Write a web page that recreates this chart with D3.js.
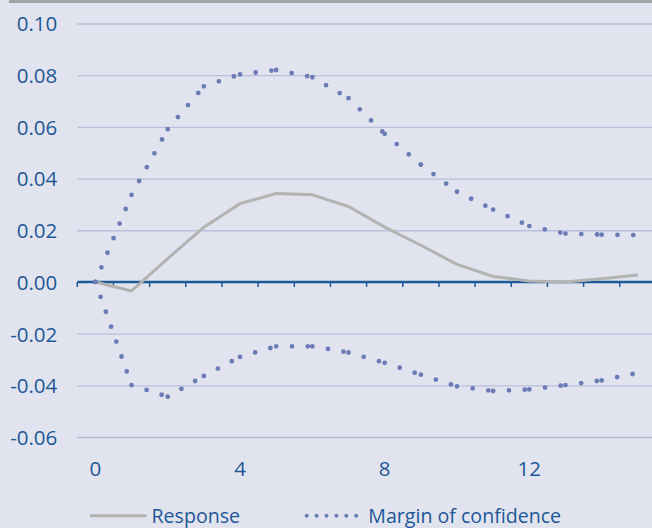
<!DOCTYPE html>
<html>
<head>
<meta charset="utf-8">
<script src="https://cdn.jsdelivr.net/npm/d3@7"></script>
<style>
  html, body { margin: 0; padding: 0; background: #e1e4ee; }
  svg { display: block; }
  text { font-family: "Open Sans", sans-serif; fill: #1d5797; }
</style>
</head>
<body>
<svg id="chart" width="652" height="528"></svg>
<script>
// periods after the shock
var periods = d3.range(0, 16);
var xTickLabels = [0, 4, 8, 12];
var yTicks = [-0.06, -0.04, -0.02, 0.00, 0.02, 0.04, 0.06, 0.08, 0.10];

var response = [0, -0.0035, 0.009, 0.0212, 0.0303, 0.0342, 0.0337, 0.0292, 0.0212, 0.0142, 0.0068, 0.0021, 0.0004, 0.0, 0.0012, 0.0027];
var upperBand = [0, 0.0337, 0.0591, 0.0757, 0.0803, 0.0820, 0.0792, 0.0711, 0.0573, 0.0454, 0.0349, 0.0280, 0.0216, 0.0187, 0.0183, 0.0181];
var lowerBand = [0, -0.0399, -0.0444, -0.0364, -0.0290, -0.0249, -0.0249, -0.0273, -0.0313, -0.0359, -0.0404, -0.0422, -0.0416, -0.0399, -0.0381, -0.0352];

var svg = d3.select("#chart");

var x = d3.scaleBand()
    .domain(periods)
    .range([77.3, 655.9])
    .padding(0);
var cx = d => x(d) + x.bandwidth() / 2;

var y = d3.scaleLinear()
    .domain([-0.06, 0.10])
    .range([437, 23.5]);

// top rule
svg.append("line")
    .attr("x1", 9).attr("x2", 652)
    .attr("y1", 1.5).attr("y2", 1.5)
    .attr("stroke", "#a3a4a8")
    .attr("stroke-width", 3);

// grid + y labels
var yAxis = svg.append("g")
    .attr("transform", "translate(77.3,0)")
    .call(d3.axisLeft(y).tickValues(yTicks).tickSize(-(652 - 77.3)).tickPadding(20)
        .tickFormat(d3.format(".2f")));
yAxis.select(".domain").remove();
yAxis.selectAll(".tick line")
    .attr("stroke", d => d === 0 ? "none" : "#b9bedb")
    .attr("stroke-width", 1.3);
yAxis.selectAll(".tick text")
    .attr("font-size", 20.5)
    .attr("font-family", "Open Sans, sans-serif")
    .attr("fill", "#1d5797")
    .attr("dy", "0.36em")
    .text(d => d3.format(".2f")(d).replace("−", "-"));

// zero axis with boundary ticks
var bounds = periods.map(d => x(d)).concat([x(15) + x.bandwidth()]);
svg.append("line")
    .attr("x1", 77.3).attr("x2", 652)
    .attr("y1", y(0)).attr("y2", y(0))
    .attr("stroke", "#1c5a97")
    .attr("stroke-width", 2.5);
svg.append("g").selectAll("line")
    .data(bounds)
    .join("line")
    .attr("x1", d => d).attr("x2", d => d)
    .attr("y1", y(0)).attr("y2", y(0) + 5)
    .attr("stroke", "#1c5a97")
    .attr("stroke-width", 1.5);

// x labels
svg.append("g").selectAll("text")
    .data(xTickLabels)
    .join("text")
    .attr("x", d => cx(d))
    .attr("y", 476)
    .attr("text-anchor", "middle")
    .attr("font-size", 20.5)
    .text(d => d);

// response line
var line = d3.line()
    .x((d, i) => cx(periods[i]))
    .y(d => y(d));
svg.append("path")
    .datum(response)
    .attr("d", line)
    .attr("fill", "none")
    .attr("stroke", "#b3b3b3")
    .attr("stroke-width", 3)
    .attr("stroke-linejoin", "round");

// confidence bands: dotted, pattern restarts every segment
function dotted(vals) {
    var segs = d3.pairs(vals.map((v, i) => [cx(periods[i]), y(v)]));
    svg.append("g").selectAll("line")
        .data(segs)
        .join("line")
        .attr("x1", d => d[0][0]).attr("y1", d => d[0][1])
        .attr("x2", d => d[1][0]).attr("y2", d => d[1][1])
        .attr("stroke", "#6b7bb6")
        .attr("stroke-width", 4.8)
        .attr("stroke-linecap", "round")
        .attr("stroke-dasharray", "0 15.8");
}
dotted(upperBand);
dotted(lowerBand);

// legend
var lg = svg.append("g");
lg.append("line")
    .attr("x1", 90).attr("x2", 146.5)
    .attr("y1", 515.7).attr("y2", 515.7)
    .attr("stroke", "#b3b3b3")
    .attr("stroke-width", 3);
lg.append("text")
    .attr("x", 151.5).attr("y", 522.8)
    .attr("font-size", 19.6)
    .text("Response");
lg.append("line")
    .attr("x1", 306.7).attr("x2", 357)
    .attr("y1", 515.7).attr("y2", 515.7)
    .attr("stroke", "#6b7bb6")
    .attr("stroke-width", 4)
    .attr("stroke-linecap", "round")
    .attr("stroke-dasharray", "0 9.9");
lg.append("text")
    .attr("x", 368.3).attr("y", 522.8)
    .attr("font-size", 19.6)
    .text("Margin of confidence");
</script>
</body>
</html>
